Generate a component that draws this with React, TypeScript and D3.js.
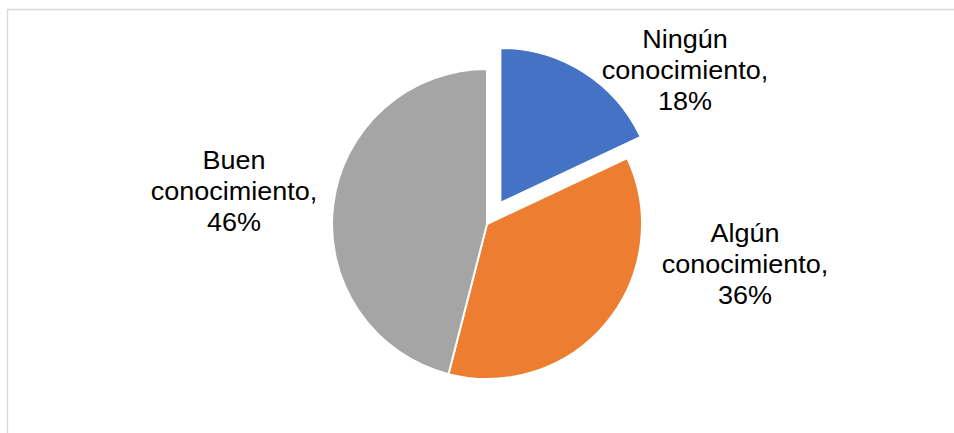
import React from "react";
import * as d3 from "d3";

const categories = ["Ningún conocimiento", "Algún conocimiento", "Buen conocimiento"];
const values = [18, 36, 46];
const colors = ["#4472C4", "#ED7D31", "#A5A5A5"];
const labelLines = [
  ["Ningún", "conocimiento,", "18%"],
  ["Algún", "conocimiento,", "36%"],
  ["Buen", "conocimiento,", "46%"],
];
const labelPos = [
  { x: 685, y: 48 },
  { x: 745, y: 242 },
  { x: 234, y: 169 },
];
const exploded = [25, 0, 0];

const W = 954;
const H = 433;
const cx = 487;
const cy = 224;
const R = 155;

export default function App() {
  const pie = d3.pie<number>().sort(null).value((d) => d).startAngle(0).endAngle(2 * Math.PI);
  const arcs = pie(values);
  const arc = d3.arc<d3.PieArcDatum<number>>().innerRadius(0).outerRadius(R);
  return (
    <svg width={W} height={H} style={{ position: "absolute", left: 0, top: 0, background: "#fff" }}>
      <rect x={7.5} y={9.5} width={W + 20} height={H + 20} fill="#fff" stroke="#d9d9d9" strokeWidth={1.5} />
      <g transform={`translate(${cx},${cy})`}>
        {arcs.map((a, i) => {
          const mid = (a.startAngle + a.endAngle) / 2;
          const dx = Math.sin(mid) * exploded[i];
          const dy = -Math.cos(mid) * exploded[i];
          return (
            <path
              key={categories[i]}
              d={arc(a) || ""}
              transform={`translate(${dx},${dy})`}
              fill={colors[i]}
              stroke="#fff"
              strokeWidth={2}
              strokeLinejoin="round"
            />
          );
        })}
      </g>
      {labelPos.map((p, i) => (
        <g key={i} transform={`translate(${p.x},${p.y}) scale(1.08,1)`}>
          {labelLines[i].map((t, j) => (
            <text
              key={j}
              x={0}
              y={j * 31}
              textAnchor="middle"
              fontFamily="'Liberation Sans', Arial, sans-serif"
              fontSize={25}
              fill="#000"
            >
              {t}
            </text>
          ))}
        </g>
      ))}
    </svg>
  );
}
